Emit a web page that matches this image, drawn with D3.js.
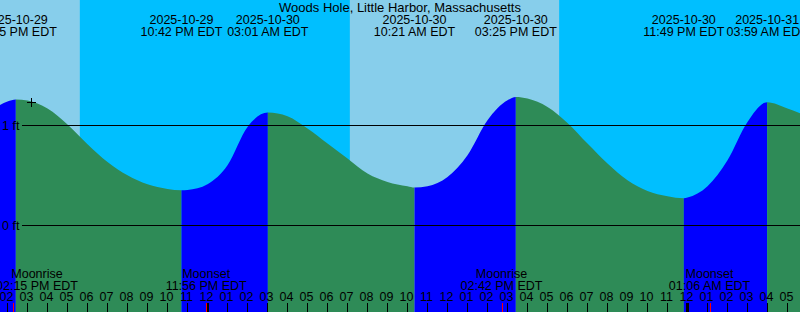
<!DOCTYPE html>
<html><head><meta charset="utf-8">
<script src="https://cdn.jsdelivr.net/npm/d3@7"></script>
<style>
html,body{margin:0;padding:0;background:#fff;overflow:hidden}
svg{display:block}
text{font-family:"Liberation Sans",Arial,sans-serif;font-size:12.5px;fill:#000}
</style></head><body>
<svg id="chart" width="800" height="312"></svg>
<script>
// ---------- data ----------
const stationName = "Woods Hole, Little Harbor, Massachusetts";

const levelTimes = [
  "2025-10-29 13:30","2025-10-29 14:00","2025-10-29 14:25","2025-10-29 15:00","2025-10-29 16:00",
  "2025-10-29 17:00","2025-10-29 18:00","2025-10-29 19:00","2025-10-29 20:00","2025-10-29 21:00",
  "2025-10-29 22:00","2025-10-29 22:42","2025-10-29 23:00","2025-10-30 00:00","2025-10-30 01:00",
  "2025-10-30 02:00","2025-10-30 03:01","2025-10-30 04:00","2025-10-30 05:00","2025-10-30 06:00",
  "2025-10-30 07:00","2025-10-30 08:00","2025-10-30 09:00","2025-10-30 10:00","2025-10-30 10:21",
  "2025-10-30 11:00","2025-10-30 12:00","2025-10-30 13:00","2025-10-30 14:00","2025-10-30 15:00",
  "2025-10-30 15:25","2025-10-30 16:00","2025-10-30 17:00","2025-10-30 18:00","2025-10-30 19:00",
  "2025-10-30 20:00","2025-10-30 21:00","2025-10-30 22:00","2025-10-30 23:00","2025-10-30 23:49",
  "2025-10-31 00:00","2025-10-31 01:00","2025-10-31 02:00","2025-10-31 03:00","2025-10-31 03:59",
  "2025-10-31 05:00","2025-10-31 05:40"
];
const levelFeet = [
  1.19,1.24,1.26,1.25,1.17,
  1.01,0.813,0.636,0.503,0.413,
  0.366,0.353,0.356,0.413,0.603,
  0.986,1.13,1.093,0.97,0.82,
  0.67,0.52,0.436,0.393,0.38,
  0.393,0.486,0.703,1.053,1.253,
  1.286,1.27,1.186,1.026,0.82,
  0.62,0.453,0.346,0.293,0.273,
  0.28,0.393,0.653,1.036,1.233,
  1.17,1.12
];

const tideTimes = ["2025-10-29 14:25","2025-10-29 22:42","2025-10-30 03:01","2025-10-30 10:21","2025-10-30 15:25","2025-10-30 23:49","2025-10-31 03:59"];
const tideKinds = ["high","low","high","low","high","low","high"];

const moonTimes = ["2025-10-29 14:15","2025-10-29 23:56","2025-10-30 14:42","2025-10-31 01:06"];
const moonKinds = ["Moonrise","Moonset","Moonrise","Moonset"];

const nightStart = ["2025-10-29 17:37","2025-10-30 17:35"];
const nightEnd   = ["2025-10-30 07:07","2025-10-31 07:08"];

const gridFeet = [1, 0];
const gridLabels = ["1 ft","0 ft"];

const markTime = "2025-10-29 15:09";
const markFeet = 1.24;

const hourStart = "2025-10-29 14:00";
const hourEnd = "2025-10-31 05:00";

// ---------- drawing ----------
const W = 800, H = 312;
const parse = d3.timeParse("%Y-%m-%d %H:%M");
const svg = d3.select("#chart");

const x = d3.scaleTime().domain([parse(hourStart), parse(hourEnd)]).range([7.5, 787.5]);
const y = d3.scaleLinear().domain([0, 1]).range([225.5, 125.5]);

const colDay = "#87CEEB", colNight = "#00BFFF", colRise = "#0000FF", colFall = "#2E8B57";

// background
svg.append("rect").attr("x", 0).attr("y", 0).attr("width", W).attr("height", H).attr("fill", colDay);
nightStart.forEach((s, i) => {
  const a = Math.max(0, x(parse(s))), b = Math.min(W, x(parse(nightEnd[i])));
  svg.append("rect").attr("x", a).attr("y", 0).attr("width", b - a).attr("height", H).attr("fill", colNight);
});

// tide area, coloured by rising / falling
const pts = levelTimes.map((t, i) => [parse(t), levelFeet[i]]);
const area = d3.area().x(d => x(d[0])).y0(H).y1(d => y(d[1])).curve(d3.curveMonotoneX);
const bounds = [x(parse(levelTimes[0]))].concat(tideTimes.map(t => x(parse(t)))).concat([x(parse(levelTimes[levelTimes.length - 1])) + 1]);
const defs = svg.append("defs");
for (let i = 0; i < bounds.length - 1; i++) {
  const id = "seg" + i;
  defs.append("clipPath").attr("id", id).append("rect")
    .attr("x", bounds[i]).attr("y", 0).attr("width", bounds[i + 1] - bounds[i]).attr("height", H);
  const rising = i < tideKinds.length ? tideKinds[i] === "high" : false;
  svg.append("path").datum(pts).attr("d", area).attr("fill", rising ? colRise : colFall)
    .attr("clip-path", `url(#${id})`);
}

// grid lines + labels
gridFeet.forEach((f, i) => {
  svg.append("line").attr("x1", 22).attr("x2", W).attr("y1", y(f)).attr("y2", y(f))
    .attr("stroke", "#000").attr("stroke-width", 1);
  svg.append("text").attr("x", 2).attr("y", y(f) + 4.5).text(gridLabels[i]);
});

// plus marker
const mx = Math.round(x(parse(markTime))) + 0.5, my = Math.round(y(markFeet)) + 0.5;
svg.append("path").attr("d", `M${mx - 4.5},${my}H${mx + 4.5}M${mx},${my - 4.5}V${my + 4.5}`)
  .attr("stroke", "#000").attr("stroke-width", 1);

// title
svg.append("text").attr("x", W / 2).attr("y", 12).attr("text-anchor", "middle")
  .style("font-size", "13px").text(stationName);

// tide event labels
const fDate = d3.timeFormat("%Y-%m-%d"), fTime = d3.timeFormat("%I:%M %p EDT");
tideTimes.forEach(t => {
  const d = parse(t), cx = x(d);
  svg.append("text").attr("x", cx).attr("y", 24).attr("text-anchor", "middle").text(fDate(d));
  svg.append("text").attr("x", cx).attr("y", 36).attr("text-anchor", "middle").text(fTime(d));
});

// hour ticks + labels
const hours = d3.timeHour.range(parse(hourStart), d3.timeHour.offset(parse(hourEnd), 1));
const fHour = d3.timeFormat("%I");
hours.forEach(h => {
  const hx = x(h);
  svg.append("text").attr("x", hx - 1).attr("y", 301).attr("text-anchor", "middle").text(fHour(h));
  const midnight = h.getHours() === 0;
  svg.append("line").attr("x1", hx).attr("x2", hx).attr("y1", 303).attr("y2", H)
    .attr("stroke", "#000").attr("stroke-width", midnight ? 3 : 1);
});

// moon events
moonTimes.forEach((t, i) => {
  const d = parse(t), mxx = Math.round(x(d)) + 0.5;
  const lx = Math.max(x(d), 37);
  svg.append("text").attr("x", lx).attr("y", 278).attr("text-anchor", "middle").text(moonKinds[i]);
  svg.append("text").attr("x", lx).attr("y", 290).attr("text-anchor", "middle").text(fTime(d));
  svg.append("line").attr("x1", mxx).attr("x2", mxx).attr("y1", 303).attr("y2", H)
    .attr("stroke", "#FF0000").attr("stroke-width", 1);
});
</script>
</body></html>
